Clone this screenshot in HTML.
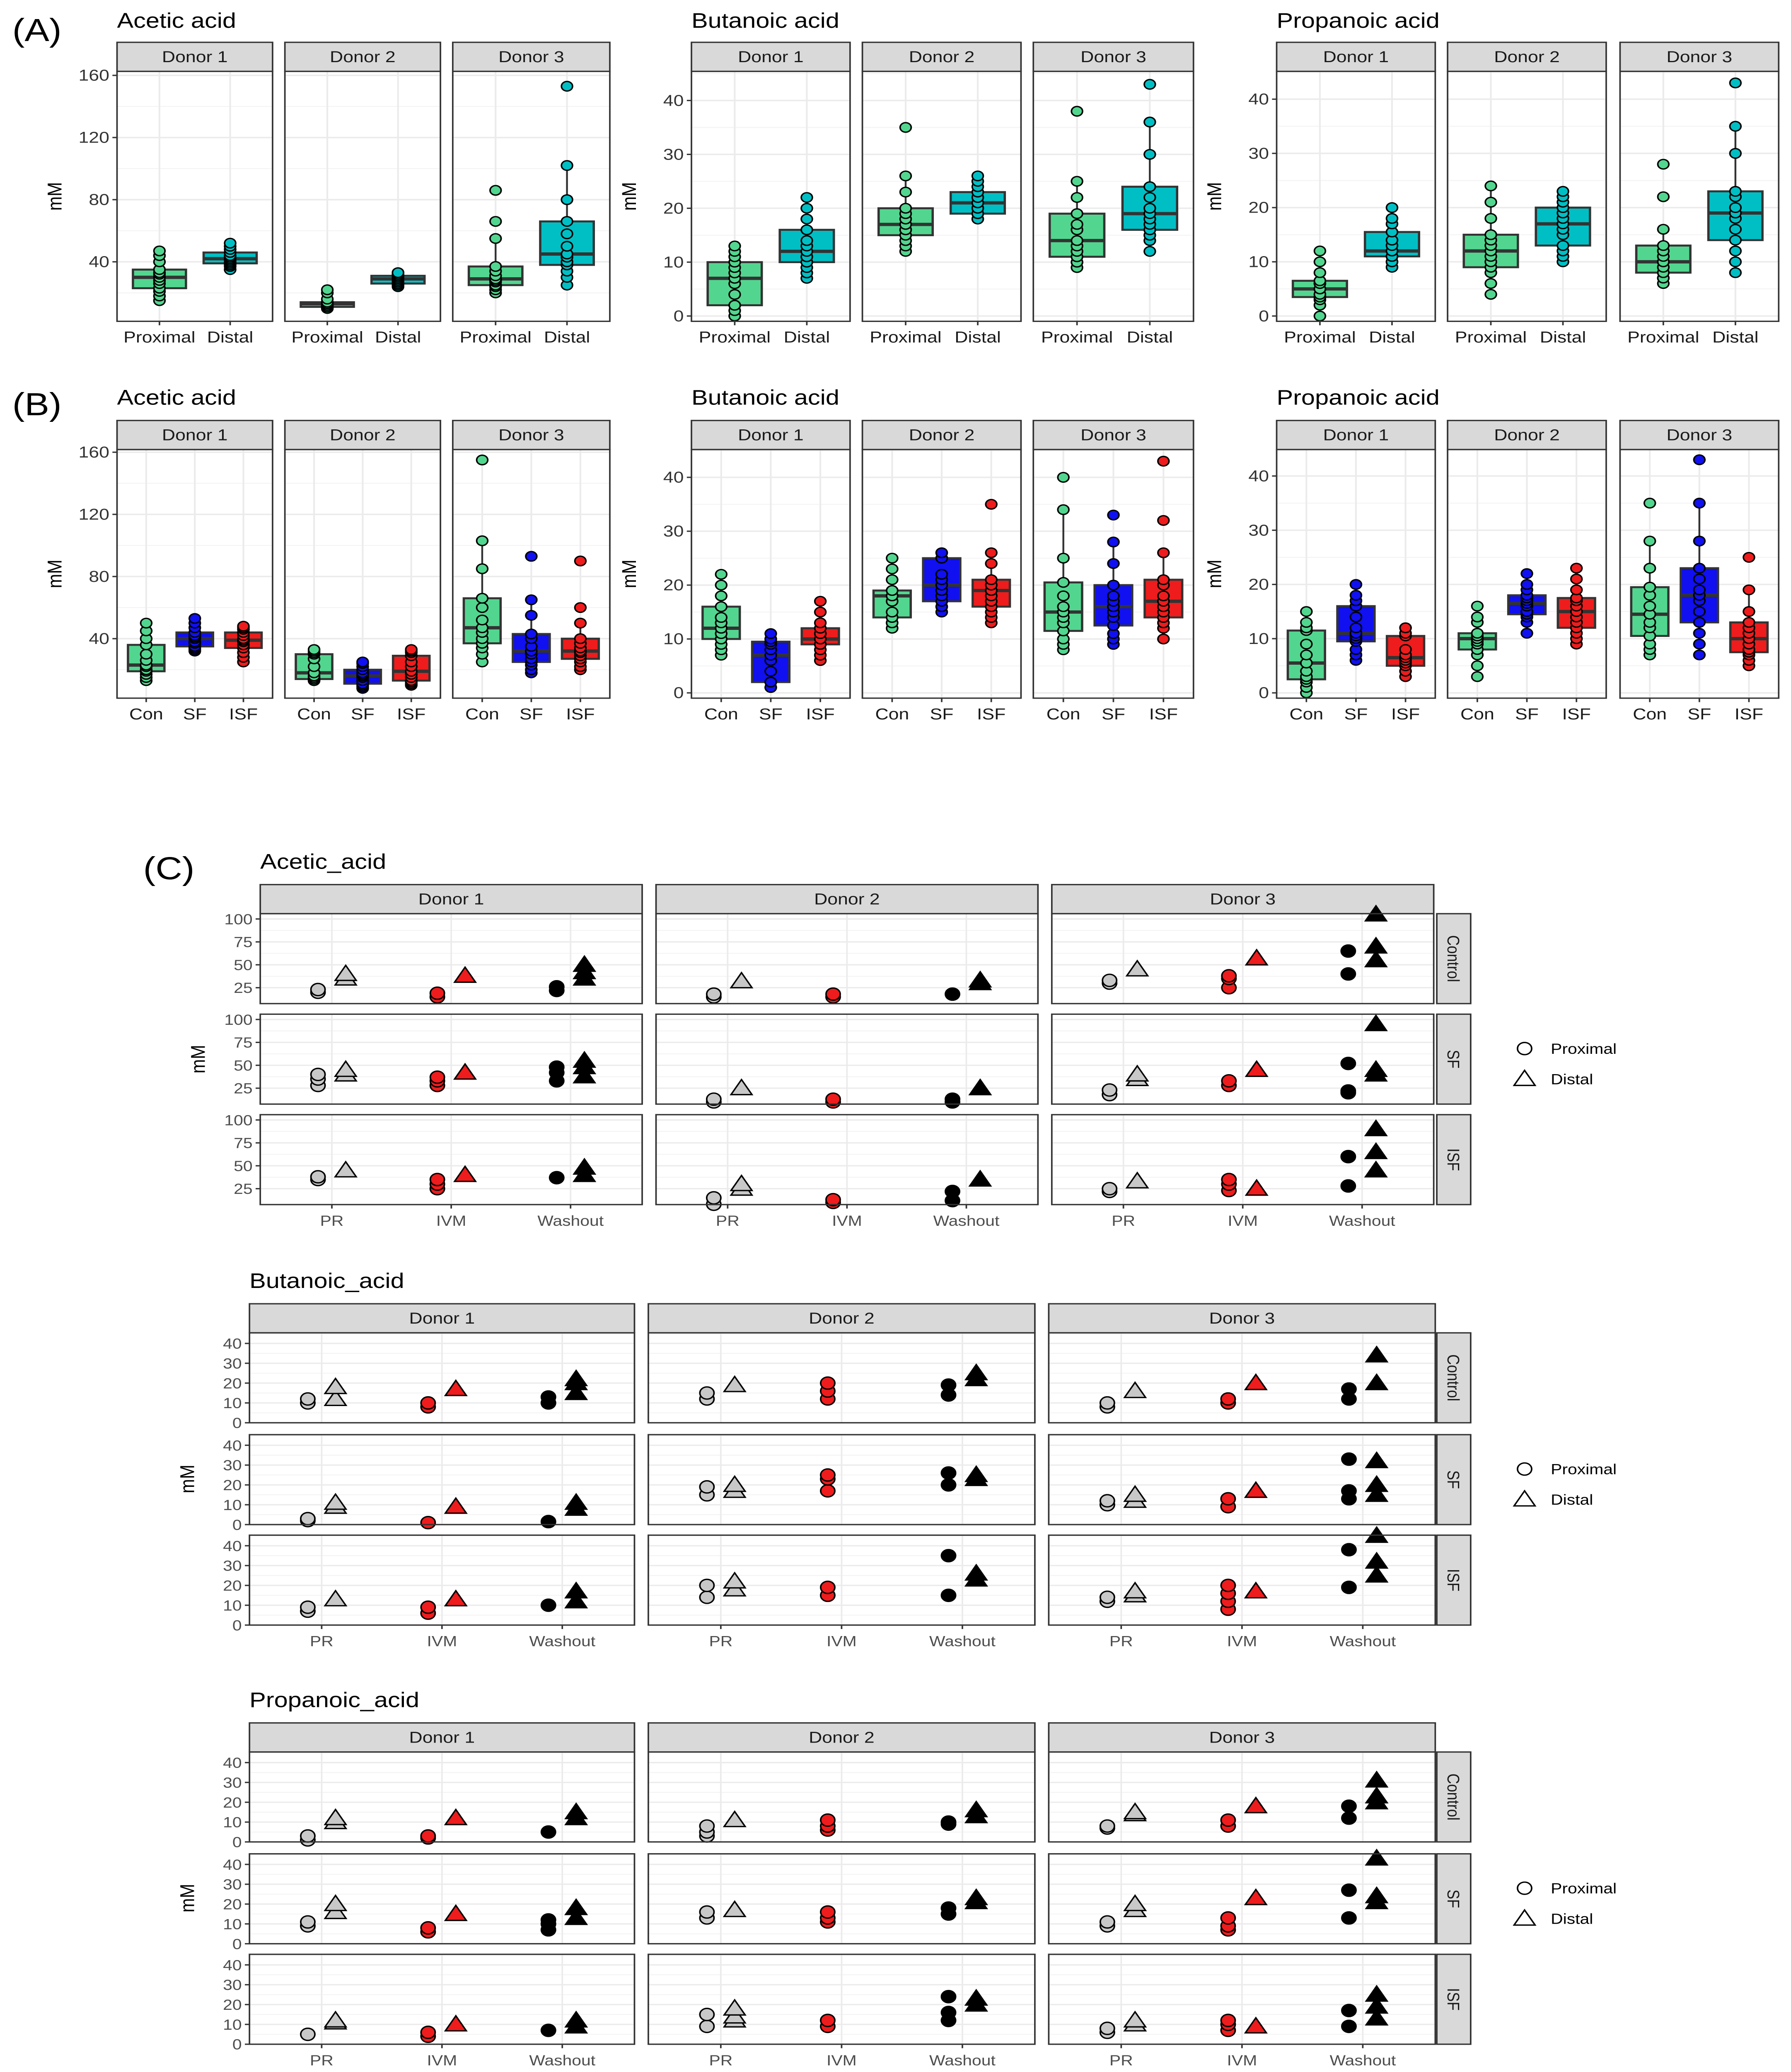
<!DOCTYPE html>
<html><head><meta charset="utf-8"><style>
html,body{margin:0;padding:0;background:#fff;width:100vw;height:100vh;overflow:hidden}
svg{display:block;position:absolute;left:0;top:0;width:100vw;height:100vh}
text{font-family:"Liberation Sans",Arial,sans-serif}
</style></head><body>
<svg id="fig" xmlns="http://www.w3.org/2000/svg" viewBox="0 0 1163 1567" preserveAspectRatio="none"></svg>
<script>
// ===== Panel A data (values in mM) =====
const aCats = ['Proximal','Distal'];
const aAceticD1 = [[15,18,21,23,26,28,30,32,33,35,40,44,47],[35,37,38,39,40,41,42,43,44,46,48,50,52]];
const aAceticD2 = [[10,10,11,11,12,12,13,13,14,14,16,20,22],[24,25,26,26,27,28,29,30,31,31,32,33,33]];
const aAceticD3 = [[20,22,24,25,27,28,29,31,34,37,55,66,86],[25,30,34,38,40,43,45,50,58,66,80,102,153]];
const aButD1 = [[0,1,2,2,4,6,7,8,9,10,11,12,13],[7,8,9,10,11,11,12,13,14,16,18,20,22]];
const aButD2 = [[12,13,14,15,16,16,17,18,19,20,23,26,35],[18,18,19,19,20,20,21,22,22,23,24,25,26]];
const aButD3 = [[9,10,10,11,12,13,14,16,17,19,22,25,38],[12,14,15,16,17,18,19,20,22,24,30,36,43]];
const aPropD1 = [[0,2,3,3.5,4,5,5,6,6,6.5,8,10,12],[9,10,10,11,11,12,12,13,14,15.5,17,18,20]];
const aPropD2 = [[4,6,8,9,10,11,12,13,14,15,18,21,24],[10,11,12,13,15,16,17,18,19,20,21,22,23]];
const aPropD3 = [[6,7,7,8,9,10,10,11,12,13,16,22,28],[8,10,12,14,16,18,19,20,22,23,30,35,43]];
// ===== Panel B data =====
const bCats = ['Con','SF','ISF'];
const bAceticD1 = [[13,15,17,19,20,22,23,26,30,36,40,45,50],[32,33,34,35,37,38,40,41,42,44,47,50,53],[25,28,31,34,36,38,39,40,42,44,46,47,48]];
const bAceticD2 = [[13,13,14,14,15,16,18,22,27,30,31,32,33],[8,9,10,11,13,15,16,17,18,20,22,24,25],[10,11,12,13,15,17,19,22,25,29,31,32,33]];
const bAceticD3 = [[25,30,34,37,40,44,47,52,60,66,85,103,155],[18,20,23,25,27,30,32,35,40,43,55,65,93],[20,22,25,27,29,31,32,34,37,40,50,60,90]];
const bButD1 = [[7,8,9,10,11,12,12,13,14,16,18,20,22],[1,1,2,2,4,6,7,8,9,9.5,10,10,11],[6,7,8,9,9,10,10,11,11,12,13,15,17]];
const bButD2 = [[12,13,13,14,15,17,18,18,19,19,21,23,25],[15,16,16,17,18,19,20,21,22,25,25,26,26],[13,14,15,16,17,18,19,19,20,21,24,26,35]];
const bButD3 = [[8,9,10,11.5,13,14,15,16,18,20.5,25,34,40],[9,10,11,12.5,14,15,16,17,18,20,24,28,33],[10,12,13,14,15,16,17,18,20,21,26,32,43]];
const bPropD1 = [[0,1,2,2.5,3,4,5.5,7,9,11.5,12,13,15],[6,7,8,9.5,10,10.5,11,12,14,16,17,18,20],[3,4,4,5,5.5,6,6.5,7,8,10.5,11,12,12]];
const bPropD2 = [[3,5,7,8,9,9.5,10,10,10.5,11,13,14,16],[11,13,14,14.5,15,16,16.5,17,17.5,18,19,20,22],[9,10,11,12,13,14,15,16,17,17.5,19,21,23]];
const bPropD3 = [[7,8,9,10.5,12,13,14.5,16,18,19.5,23,28,35],[7,9,11,13,15,17,18,19,21,23,28,35,43],[5,6,7,7.5,8,9,10,11,12,13,15,19,25]];
// ===== Panel C data: [PR, IVM, Washout] x [proximal, distal] =====
const cTimes = ['PR','IVM','Washout'];
const cRows = ['Control','SF','ISF'];
const cAcetic = [
 [ [[[20,23],[35,40]],[[15,19],[38]],[[22,26],[35,42,50]]],
   [[[28,35,40],[40,45]],[[28,33,37],[42]],[[33,42,48],[38,48,55]]],
   [[[35,38],[45]],[[25,30,35],[40]],[[37],[40,48]]] ],
 [ [[[15,18],[32]],[[15,18],[]],[[18],[30,33]]],
   [[[10,13],[25]],[[10,13],[]],[[10,13],[25]]],
   [[[8,15],[25,30]],[[10,13],[]],[[12,22],[35]]] ],
 [ [[[30,33],[45]],[[25,35,38],[57]],[[40,65],[55,70,105]]],
   [[[18,23],[35,40]],[[28,33],[45]],[[20,22,52],[40,45,95]]],
   [[[22,25],[33]],[[23,30,35],[25]],[[28,60],[45,65,90]]] ] ];
const cButanoic = [
 [ [[[10,12],[12,18]],[[8,10],[17]],[[10,13],[15,20,22]]],
   [[[2,3],[9,11]],[[1],[9]],[[1.5],[8,11]]],
   [[[7,9],[13]],[[6,9],[13]],[[10],[12,17]]] ],
 [ [[[12,15],[19]],[[12,16,20],[]],[[14,19],[22,25]]],
   [[[15,19],[17,20]],[[17,23,25],[]],[[20,26],[23,25]]],
   [[[14,20],[18,22]],[[15,19],[]],[[15,35],[23,26]]] ],
 [ [[[8,10],[16]],[[10,12],[20]],[[12,17],[20,34]]],
   [[[10,12],[12,15]],[[9,13],[17]],[[13,17,33],[15,20,32]]],
   [[[12,14],[15,17]],[[8,12,16,20],[17]],[[19,38],[25,32,45]]] ] ];
const cPropanoic = [
 [ [[[1,3],[10,12]],[[2,3],[12]],[[5],[12,15]]],
   [[[9,11],[16,20]],[[6,8],[15]],[[7,10,12],[13,18]]],
   [[[5],[11,12]],[[4,6],[10]],[[7],[9,12]]] ],
 [ [[[3,5,8],[11]],[[6,8,11],[]],[[9,10],[13,16]]],
   [[[13,16],[17]],[[11,13,16],[]],[[15,18],[21,23]]],
   [[[9,15],[12,14,18]],[[9,12],[]],[[12,16,24],[20,23]]] ],
 [ [[[7,8],[14,15]],[[8,11],[18]],[[12,18],[20,23,31]]],
   [[[9,11],[17,20]],[[7,9,13],[23]],[[13,27],[21,24,43]]],
   [[[6,8],[10,12]],[[7,10,12],[9]],[[9,17],[13,19,25]]] ] ];
const ticksAcetic = [40,80,120,160];
const ticks40 = [0,10,20,30,40];
const ticksCAcetic = [25,50,75,100];

const svg = document.getElementById('fig');
const NS = 'http://www.w3.org/2000/svg';
function mk(tag, attrs, parent){ const e=document.createElementNS(NS,tag); for(const k in attrs) e.setAttribute(k,attrs[k]); (parent||svg).appendChild(e); return e; }
function txt(x,y,s,size,anchor,parent,extra){ const t=mk('text',Object.assign({x:x,y:y,'font-size':size,'text-anchor':anchor||'start',fill:'#000'},extra||{}),parent); t.textContent=s; return t; }
function quant(a,p){ const s=a.slice().sort((x,y)=>x-y); const h=(s.length-1)*p; const l=Math.floor(h); return s[l]+(h-l)*((s[Math.min(l+1,s.length-1)])-s[l]); }

let t;
t=txt(8,31,'(A)',24,'start');  
t=txt(8,314,'(B)',24,'start');  
t=txt(93,665,'(C)',24,'start');  

function boxGroup(cfg){
  const g=mk('g',{});
  
  
  t=txt(cfg.facets[0][0],cfg.titleY,cfg.title,16,'start',g);  
  const y=v=>cfg.y0-v*cfg.k;
  cfg.ticks.forEach(v=>{
    mk('line',{x1:cfg.facets[0][0]-3,x2:cfg.facets[0][0],y1:y(v),y2:y(v),stroke:'#333','stroke-width':1},g);
    t=txt(cfg.facets[0][0]-5,y(v)+4,String(v),12,'end',g,{fill:'#333'});  
  });
  t=txt(0,0,'mM',13,'middle',g,{transform:'translate('+(cfg.facets[0][0]-36)+','+((cfg.top+cfg.bot)/2)+') rotate(-90)'});
   
  cfg.facets.forEach((f,fi)=>{
    const [x0,x1]=f; const data=cfg.data[fi]; const n=cfg.cats.length;
    const unit=(x1-x0)/(n-1+1.2);
    const xc=i=>x0+(0.6+i)*unit;
    const fg=mk('g',{},g);
    
    
    const s=mk('rect',{x:x0,y:cfg.stripTop,width:x1-x0,height:cfg.top-cfg.stripTop,fill:'#d9d9d9',stroke:'#333','stroke-width':1},fg);
     
    t=txt((x0+x1)/2,cfg.stripTop+15,'Donor '+(fi+1),12,'middle',fg,{fill:'#1a1a1a'});  
    mk('rect',{x:x0,y:cfg.top,width:x1-x0,height:cfg.bot-cfg.top,fill:'#fff'},fg);
    for(let i=0;i<cfg.ticks.length;i++){
      const v=cfg.ticks[i]; mk('line',{x1:x0,x2:x1,y1:y(v),y2:y(v),stroke:'#ebebeb','stroke-width':1.1},fg);
      const mv=v+(cfg.ticks[1]-cfg.ticks[0])/2; if(y(mv)>cfg.top) mk('line',{x1:x0,x2:x1,y1:y(mv),y2:y(mv),stroke:'#f2f2f2','stroke-width':0.6},fg);
      const lv=v-(cfg.ticks[1]-cfg.ticks[0])/2; if(i===0 && y(lv)<cfg.bot) mk('line',{x1:x0,x2:x1,y1:y(lv),y2:y(lv),stroke:'#f2f2f2','stroke-width':0.6},fg);
    }
    cfg.cats.forEach((c,ci)=>{
      mk('line',{x1:xc(ci),x2:xc(ci),y1:cfg.top,y2:cfg.bot,stroke:'#ebebeb','stroke-width':1.1},fg);
      mk('line',{x1:xc(ci),x2:xc(ci),y1:cfg.bot,y2:cfg.bot+3,stroke:'#333','stroke-width':1},fg);
      t=txt(xc(ci),cfg.bot+16,c,12,'middle',fg,{fill:'#1a1a1a'});  
      const pts=data[ci]; const q1=quant(pts,0.25),md=quant(pts,0.5),q3=quant(pts,0.75); const iqr=q3-q1;
      const lo=Math.min(...pts.filter(p=>p>=q1-1.5*iqr)), hi=Math.max(...pts.filter(p=>p<=q3+1.5*iqr));
      const bw=unit*0.75, bx=xc(ci)-bw/2;
      const bg=mk('g',{},fg);
      
      
      mk('line',{x1:xc(ci),x2:xc(ci),y1:y(hi),y2:y(q3),stroke:'#333','stroke-width':1.2},bg);
      mk('line',{x1:xc(ci),x2:xc(ci),y1:y(q1),y2:y(lo),stroke:'#333','stroke-width':1.2},bg);
      mk('rect',{x:bx,y:y(q3),width:bw,height:Math.max(1,y(q1)-y(q3)),fill:cfg.colors[ci],stroke:'#333','stroke-width':1.5},bg);
      mk('line',{x1:bx,x2:bx+bw,y1:y(md),y2:y(md),stroke:'#333','stroke-width':2.5},bg);
      pts.forEach(p=>{
        const pt=mk('circle',{cx:xc(ci),cy:y(p),r:3.6,fill:cfg.colors[ci],stroke:'#000','stroke-width':1},bg);
        
        
      });
    });
    mk('rect',{x:x0,y:cfg.top,width:x1-x0,height:cfg.bot-cfg.top,fill:'none',stroke:'#333','stroke-width':1},fg);
  });
}
const colA=['#52d68f','#00bfc4'], colB=['#52d68f','#1010f0','#ee1c1c'];
const fAce=[[76,177],[185,286],[294,396]], fBut=[[449,552],[560,663],[671,775]], fPro=[[829,932],[940,1043],[1052,1155]];
boxGroup({name:'a-acetic-acid',title:'Acetic acid',titleY:21,stripTop:32,top:54,bot:243,facets:fAce,y0:245,k:47/40,ticks:ticksAcetic,cats:aCats,colors:colA,data:[aAceticD1,aAceticD2,aAceticD3]});
boxGroup({name:'a-butanoic-acid',title:'Butanoic acid',titleY:21,stripTop:32,top:54,bot:243,facets:fBut,y0:239,k:4.075,ticks:ticks40,cats:aCats,colors:colA,data:[aButD1,aButD2,aButD3]});
boxGroup({name:'a-propanoic-acid',title:'Propanoic acid',titleY:21,stripTop:32,top:54,bot:243,facets:fPro,y0:239,k:4.1,ticks:ticks40,cats:aCats,colors:colA,data:[aPropD1,aPropD2,aPropD3]});
boxGroup({name:'b-acetic-acid',title:'Acetic acid',titleY:306,stripTop:318,top:340,bot:528,facets:fAce,y0:530,k:1.175,ticks:ticksAcetic,cats:bCats,colors:colB,data:[bAceticD1,bAceticD2,bAceticD3]});
boxGroup({name:'b-butanoic-acid',title:'Butanoic acid',titleY:306,stripTop:318,top:340,bot:528,facets:fBut,y0:524,k:4.075,ticks:ticks40,cats:bCats,colors:colB,data:[bButD1,bButD2,bButD3]});
boxGroup({name:'b-propanoic-acid',title:'Propanoic acid',titleY:306,stripTop:318,top:340,bot:528,facets:fPro,y0:524,k:4.1,ticks:ticks40,cats:bCats,colors:colB,data:[bPropD1,bPropD2,bPropD3]});

// ===== Panel C =====
const tCol=['#c8c8c8','#ee1c1c','#000000'];
function tri(cx,cy,fill,parent){ const s=6.5; const p=mk('polygon',{points:(cx)+','+(cy-s)+' '+(cx-s*1.05)+','+(cy+s*0.75)+' '+(cx+s*1.05)+','+(cy+s*0.75),fill:fill,stroke:'#000','stroke-width':1},parent); return p; }
function dotBlock(cfg){
  const g=mk('g',{});
  
  
  t=txt(cfg.facets[0][0],cfg.titleY,cfg.title,16,'start',g);  
  const H=68;
  const rowBot=cfg.rows[2]+H;
  t=txt(0,0,'mM',13,'middle',g,{transform:'translate('+(cfg.facets[0][0]-36)+','+((cfg.rows[0]+rowBot)/2)+') rotate(-90)'});
   
  cfg.facets.forEach((f,fi)=>{
    const [x0,x1]=f; const unit=(x1-x0)/3.2; const xc=i=>x0+(0.6+i)*unit;
    const s=mk('rect',{x:x0,y:cfg.stripTop,width:x1-x0,height:cfg.rows[0]-cfg.stripTop,fill:'#d9d9d9',stroke:'#333','stroke-width':1},g);
     
    t=txt((x0+x1)/2,cfg.stripTop+15,'Donor '+(fi+1),12,'middle',g,{fill:'#1a1a1a'});  
    cTimes.forEach((tm,ti)=>{
      mk('line',{x1:xc(ti),x2:xc(ti),y1:rowBot,y2:rowBot+3,stroke:'#333','stroke-width':1},g);
      t=txt(xc(ti),rowBot+16,tm,11,'middle',g,{fill:'#4d4d4d'});  
    });
    cfg.rows.forEach((rt,ri)=>{
      const y=v=>rt+cfg.off+(cfg.tmax-v)*cfg.k;
      const rg=mk('g',{},g);
      
      
      mk('rect',{x:x0,y:rt,width:x1-x0,height:H,fill:'#fff'},rg);
      cfg.ticks.forEach((v,i)=>{
        mk('line',{x1:x0,x2:x1,y1:y(v),y2:y(v),stroke:'#ebebeb','stroke-width':1},rg);
        const mv=v+(cfg.ticks[1]-cfg.ticks[0])/2; if(y(mv)>rt) mk('line',{x1:x0,x2:x1,y1:y(mv),y2:y(mv),stroke:'#f2f2f2','stroke-width':0.6},rg);
        if(fi===0){ mk('line',{x1:x0-3,x2:x0,y1:y(v),y2:y(v),stroke:'#333','stroke-width':1},g);
          t=txt(x0-5,y(v)+4,String(v),11,'end',g,{fill:'#4d4d4d'});   }
      });
      cTimes.forEach((tm,ti)=>mk('line',{x1:xc(ti),x2:xc(ti),y1:rt,y2:rt+H,stroke:'#ebebeb','stroke-width':1},rg));
      cTimes.forEach((tm,ti)=>{
        const [px,dx]=cfg.data[fi][ri][ti];
        px.forEach(v=>{ const c=mk('circle',{cx:xc(ti)-9,cy:y(v),r:4.6,fill:tCol[ti],stroke:'#000','stroke-width':1},rg);
            });
        dx.forEach(v=>{ const p=tri(xc(ti)+9,y(v),tCol[ti],rg);
            });
      });
      mk('rect',{x:x0,y:rt,width:x1-x0,height:H,fill:'none',stroke:'#333','stroke-width':1},rg);
      if(fi===2){
        const rs=mk('rect',{x:933,y:rt,width:22,height:H,fill:'#d9d9d9',stroke:'#333','stroke-width':1},g);
         
        t=txt(0,0,cRows[ri],11,'middle',g,{fill:'#1a1a1a',transform:'translate(940,'+(rt+H/2)+') rotate(90)'});
         
      }
    });
  });
  const lg=mk('g',{},g);
  
  
  const ly=cfg.rows[1]+26;
  mk('circle',{cx:990,cy:ly,r:4.6,fill:'none',stroke:'#000','stroke-width':1},lg);
  t=txt(1007,ly+4,'Proximal',11,'start',lg);  
  tri(990,ly+23,'none',lg);
  t=txt(1007,ly+27,'Distal',11,'start',lg);  
}
dotBlock({name:'c-acetic-acid',title:'Acetic_acid',titleY:657,stripTop:669,rows:[691,767,843],facets:[[169,417],[426,674],[683,931]],off:4,tmax:100,k:0.693,ticks:ticksCAcetic,data:cAcetic});
dotBlock({name:'c-butanoic-acid',title:'Butanoic_acid',titleY:974,stripTop:986,rows:[1008,1085,1161],facets:[[162,412],[421,672],[681,932]],off:8,tmax:40,k:1.5,ticks:ticks40,data:cButanoic});
dotBlock({name:'c-propanoic-acid',title:'Propanoic_acid',titleY:1291,stripTop:1303,rows:[1325,1402,1478],facets:[[162,412],[421,672],[681,932]],off:8,tmax:40,k:1.5,ticks:ticks40,data:cPropanoic});
</script>
</body></html>
